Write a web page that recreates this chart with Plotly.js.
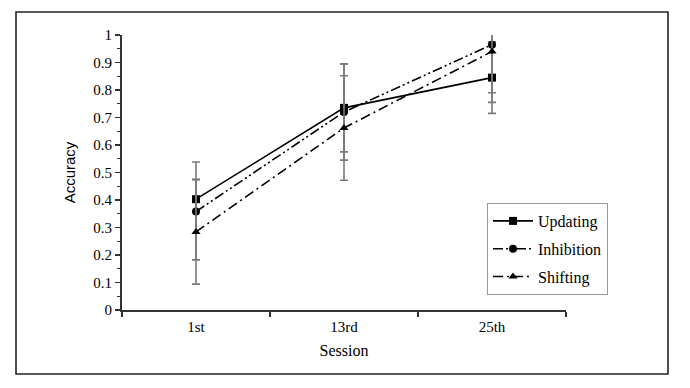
<!DOCTYPE html>
<html>
<head>
<meta charset="utf-8">
<script src="https://cdn.plot.ly/plotly-3.0.1.min.js"></script>
<style>body{margin:0;padding:0;background:#fff;} #chart{width:690px;height:388px;}</style>
</head>
<body>
<div id="chart"></div>
<script>
const sessions = ["1st", "13rd", "25th"];
const updating = [0.403, 0.735, 0.845];
const inhibition = [0.358, 0.720, 0.965];
const shifting = [0.284, 0.662, 0.940];
const updatingErrPlus = [0.135, 0.160, 0.130];
const updatingErrMinus = [0.220, 0.160, 0.130];
const inhibitionErrPlus = [0.117, 0.175, 0.210];
const inhibitionErrMinus = [0.175, 0.175, 0.210];
const shiftingErrPlus = [0.190, 0.190, 0.150];
const shiftingErrMinus = [0.190, 0.190, 0.150];

function err(plus, minus) {
  return {type: 'data', symmetric: false, array: plus, arrayminus: minus,
          color: '#7a7a7a', thickness: 1.6, width: 4};
}

const traces = [
  {x: sessions, y: updating, name: 'Updating', legendgroup: 'u', mode: 'lines+markers', type: 'scatter',
   line: {color: '#000', width: 1.6, dash: 'solid'},
   marker: {symbol: 'square', size: 8, color: '#000'},
   error_y: err(updatingErrPlus, updatingErrMinus)},
  {x: sessions, y: inhibition, name: 'Inhibition', legendgroup: 'i', mode: 'lines+markers', type: 'scatter',
   line: {color: '#000', width: 1.6, dash: '10px,3px,2px,3px,2px,3px'},
   marker: {symbol: 'circle', size: 8, color: '#000'},
   error_y: err(inhibitionErrPlus, inhibitionErrMinus)},
  {x: sessions, y: shifting, name: 'Shifting', legendgroup: 's', mode: 'lines+markers', type: 'scatter',
   line: {color: '#000', width: 1.6, dash: '10px,4px,2px,4px'},
   marker: {symbol: 'triangle-up', size: 8, color: '#000'},
   error_y: err(shiftingErrPlus, shiftingErrMinus)}
];

const serif = "'Liberation Serif', 'Times New Roman', Times, serif";
const W = 444, H = 275;
function px(x) { return (x - 122) / W; }
function py(y) { return (310 - y) / H; }

const layout = {
  width: 690, height: 388,
  margin: {l: 122, r: 124, t: 35, b: 78},
  paper_bgcolor: '#fff', plot_bgcolor: '#fff',
  showlegend: true,
  font: {family: serif, size: 15, color: '#000'},
  xaxis: {
    type: 'category', range: [-0.5, 2.5], tickson: 'boundaries',
    showline: true, linecolor: '#333', linewidth: 2,
    ticks: 'outside', ticklen: 5, tickwidth: 1.5, tickcolor: '#333',
    ticklabelstandoff: 2,
    showgrid: false, zeroline: false, fixedrange: true,
    tickfont: {family: serif, size: 15, color: '#000'},
    title: {text: 'Session', font: {family: serif, size: 16, color: '#000'}, standoff: 11}
  },
  yaxis: {
    range: [0, 1], dtick: 0.1, tick0: 0,
    showline: true, linecolor: '#333', linewidth: 2,
    ticks: 'outside', ticklen: 5, tickwidth: 1.5, tickcolor: '#333',
    minor: {dtick: 0.05, ticks: 'outside', ticklen: 3, tickwidth: 1, tickcolor: '#333', showgrid: false},
    showgrid: false, zeroline: false, fixedrange: true,
    tickfont: {family: serif, size: 15, color: '#000'},
    title: {text: 'Accuracy', font: {family: "'Liberation Sans', Arial, sans-serif", size: 15, color: '#000'}, standoff: 14}
  },
  legend: {
    x: px(487), y: py(203), xanchor: 'left', yanchor: 'top',
    bgcolor: '#fff', bordercolor: '#999', borderwidth: 1,
    font: {family: serif, size: 16, color: '#000'},
    tracegroupgap: 4, itemwidth: 40
  },
  shapes: [
    {type: 'rect', xref: 'paper', yref: 'paper', x0: px(16), x1: px(668), y0: py(12), y1: py(374),
     line: {color: '#222', width: 1.6}, layer: 'below'}
  ]
};

Plotly.newPlot('chart', traces, layout, {displayModeBar: false, staticPlot: true});
</script>
</body>
</html>
